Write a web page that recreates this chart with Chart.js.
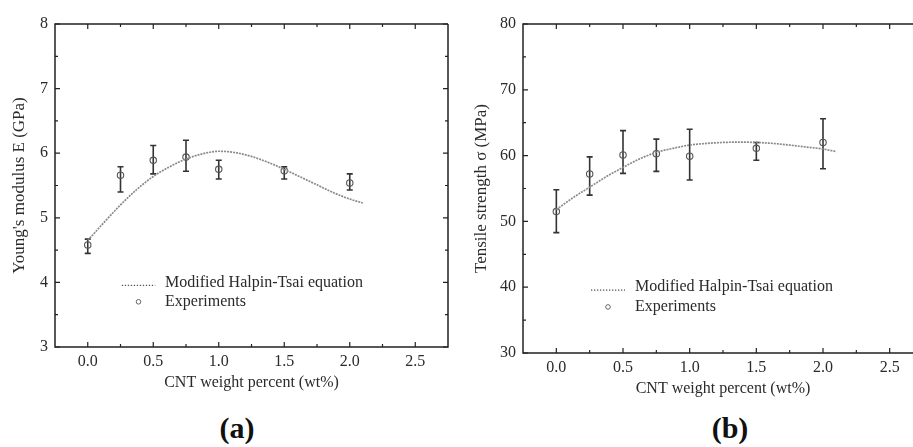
<!DOCTYPE html>
<html>
<head>
<meta charset="utf-8">
<script src="https://cdn.jsdelivr.net/npm/chart.js@4/dist/chart.umd.min.js"></script>
<style>
    html, body { margin: 0; padding: 0; background: #fff; overflow: hidden; width: 913px; height: 447px; }
    .panel { position: absolute; top: 0; height: 400px; }
    #panel-a { left: 0; width: 460px; }
    #panel-b { left: 453px; width: 480px; }
    .tag { position: absolute; top: 411px; line-height: 36px; font: bold 30px "Liberation Serif", "Times New Roman", serif; color: #111; transform: translateX(-50%); }
</style>
</head>
<body>
<div class="panel" id="panel-a"><canvas id="chart-a"></canvas></div>
<div class="panel" id="panel-b"><canvas id="chart-b"></canvas></div>
<div class="tag" style="left:237px">(a)</div>
<div class="tag" style="left:730px">(b)</div>
<script>
(function () {
    "use strict";

    // Measured points (wt% CNT)
    const cntWt = [0, 0.25, 0.5, 0.75, 1.0, 1.5, 2.0];
    const modulusMean = [4.58, 5.66, 5.89, 5.94, 5.75, 5.73, 5.54];
    const modulusLow = [4.45, 5.40, 5.68, 5.72, 5.60, 5.60, 5.43];
    const modulusHigh = [4.67, 5.79, 6.12, 6.20, 5.89, 5.79, 5.68];
    const strengthMean = [51.5, 57.2, 60.1, 60.3, 59.9, 61.1, 62.0];
    const strengthLow = [48.3, 54.0, 57.3, 57.6, 56.3, 59.3, 58.0];
    const strengthHigh = [54.8, 59.8, 63.8, 62.5, 64.0, 62.0, 65.6];

    // Modified Halpin-Tsai curves
    const fitWt = [0, 0.125, 0.25, 0.375, 0.5, 0.625, 0.75, 0.875, 1.0, 1.125, 1.25, 1.375, 1.5, 1.625, 1.75, 1.875, 2.0, 2.1];
    const modulusFit = [4.65, 4.93, 5.20, 5.44, 5.64, 5.79, 5.91, 5.99, 6.03, 6.01, 5.95, 5.86, 5.75, 5.63, 5.51, 5.39, 5.29, 5.23];
    const strengthFit = [51.8, 53.6, 55.2, 56.8, 58.2, 59.5, 60.5, 61.1, 61.6, 61.85, 62.0, 62.05, 62.0, 61.85, 61.6, 61.3, 61.0, 60.6];

    // Tick labels
    const xTicks = [0, 0.5, 1.0, 1.5, 2.0, 2.5];
    const modulusTicks = [3, 4, 5, 6, 7, 8];
    const strengthTicks = [30, 40, 50, 60, 70, 80];

    const FONT = '"Liberation Serif", "Times New Roman", serif';
    const INK = "#2a2a2a";

    const points = (xs, ys) => xs.map((x, i) => ({ x: x, y: ys[i] }));

    // Error bars, frame with inward ticks, legend inside the plot
    const decor = {
        id: "decor",
        beforeDatasetsDraw(chart, args, opts) {
            const { ctx, scales: { x, y } } = chart;
            ctx.save();
            ctx.strokeStyle = "#333";
            ctx.lineWidth = 1.6;
            opts.low.forEach((lo, i) => {
                const px = x.getPixelForValue(cntWt[i]);
                const top = y.getPixelForValue(opts.high[i]);
                const bot = y.getPixelForValue(lo);
                ctx.beginPath();
                ctx.moveTo(px, top);
                ctx.lineTo(px, bot);
                ctx.moveTo(px - 3, top);
                ctx.lineTo(px + 3, top);
                ctx.moveTo(px - 3, bot);
                ctx.lineTo(px + 3, bot);
                ctx.stroke();
            });
            ctx.restore();
        },
        afterDraw(chart, args, opts) {
            const { ctx, chartArea: a, scales: { x, y } } = chart;
            ctx.save();
            ctx.strokeStyle = "#222";
            ctx.lineWidth = 1.5;
            ctx.beginPath();
            ctx.moveTo(a.right, a.top);
            ctx.lineTo(a.left, a.top);
            ctx.lineTo(a.left, a.bottom);
            ctx.lineTo(a.right, a.bottom);
            if (opts.rightFrame) ctx.lineTo(a.right, a.top);
            ctx.stroke();

            ctx.lineWidth = 1.2;
            ctx.beginPath();
            xTicks.forEach((v, i) => {
                const px = x.getPixelForValue(v);
                ctx.moveTo(px, a.bottom); ctx.lineTo(px, a.bottom - 5);
                ctx.moveTo(px, a.top); ctx.lineTo(px, a.top + 5);
                if (i < xTicks.length - 1) {
                    const mx = x.getPixelForValue((v + xTicks[i + 1]) / 2);
                    ctx.moveTo(mx, a.bottom); ctx.lineTo(mx, a.bottom - 3);
                    ctx.moveTo(mx, a.top); ctx.lineTo(mx, a.top + 3);
                }
            });
            opts.yTicks.forEach((v, i) => {
                const py = y.getPixelForValue(v);
                ctx.moveTo(a.left, py); ctx.lineTo(a.left + 5, py);
                if (opts.rightFrame) { ctx.moveTo(a.right, py); ctx.lineTo(a.right - 5, py); }
                if (i < opts.yTicks.length - 1) {
                    const my = y.getPixelForValue((v + opts.yTicks[i + 1]) / 2);
                    ctx.moveTo(a.left, my); ctx.lineTo(a.left + 3, my);
                    if (opts.rightFrame) { ctx.moveTo(a.right, my); ctx.lineTo(a.right - 3, my); }
                }
            });
            ctx.stroke();

            // legend
            const w = a.right - a.left;
            const h = a.bottom - a.top;
            const x0 = a.left + 0.17 * w;
            const x1 = a.left + 0.255 * w;
            const tx = a.left + 0.28 * w;
            const y0 = a.top + 0.80 * h;
            const y1 = a.top + 0.86 * h;
            ctx.strokeStyle = "#555";
            ctx.lineWidth = 1.3;
            ctx.setLineDash([1.3, 1.7]);
            ctx.beginPath();
            ctx.moveTo(x0, y0 + 3);
            ctx.lineTo(x1, y0 + 3);
            ctx.stroke();
            ctx.setLineDash([]);
            ctx.lineWidth = 1;
            ctx.strokeStyle = "#666";
            ctx.beginPath();
            ctx.arc((x0 + x1) / 2, y1, 2.3, 0, Math.PI * 2);
            ctx.stroke();
            ctx.fillStyle = INK;
            ctx.font = "16px " + FONT;
            ctx.textBaseline = "middle";
            ctx.fillText(chart.data.datasets[0].label, tx, y0);
            ctx.fillText(chart.data.datasets[1].label, tx, y1);
            ctx.restore();
        },
    };

    function makeChart(id, cfg) {
        return new Chart(document.getElementById(id), {
            type: "scatter",
            data: {
                datasets: [
                    {
                        label: "Modified Halpin-Tsai equation",
                        data: points(fitWt, cfg.fit),
                        showLine: true,
                        borderColor: "#8a8a8a",
                        borderWidth: 1.7,
                        borderDash: [2, 1],
                        pointRadius: 0,
                        cubicInterpolationMode: "monotone",
                    },
                    {
                        label: "Experiments",
                        data: points(cntWt, cfg.mean),
                        showLine: false,
                        pointRadius: 3.2,
                        pointBorderWidth: 1.1,
                        borderColor: "#555",
                        backgroundColor: "transparent",
                    },
                ],
            },
            options: {
                responsive: true,
                maintainAspectRatio: false,
                animation: false,
                layout: { padding: { top: 24, right: cfg.padRight, left: 0, bottom: 0 } },
                plugins: {
                    legend: { display: false },
                    tooltip: { enabled: false },
                    decor: { low: cfg.low, high: cfg.high, yTicks: cfg.yTicks, rightFrame: cfg.rightFrame },
                },
                scales: {
                    x: {
                        type: "linear",
                        min: -0.25,
                        max: 2.75,
                        afterBuildTicks: (s) => { s.ticks = xTicks.map((v) => ({ value: v })); },
                        afterFit: (s) => { s.height = cfg.xHeight; },
                        ticks: {
                            callback: (v) => Number(v).toFixed(1),
                            font: { family: FONT, size: 16 },
                            color: INK,
                            padding: 5,
                            maxRotation: 0,
                            autoSkip: false,
                        },
                        grid: { display: false, drawTicks: false },
                        border: { display: false },
                        title: {
                            display: true,
                            text: "CNT weight percent (wt%)",
                            font: { family: FONT, size: 16 },
                            color: INK,
                            padding: { top: 0, bottom: cfg.xTitlePad },
                        },
                    },
                    y: {
                        type: "linear",
                        min: cfg.yTicks[0],
                        max: cfg.yTicks[cfg.yTicks.length - 1],
                        afterBuildTicks: (s) => { s.ticks = cfg.yTicks.map((v) => ({ value: v })); },
                        afterFit: (s) => { s.width = cfg.yWidth; },
                        ticks: {
                            font: { family: FONT, size: 16 },
                            color: INK,
                            padding: 7,
                        },
                        grid: { display: false, drawTicks: false },
                        border: { display: false },
                        title: {
                            display: true,
                            text: cfg.yTitle,
                            font: { family: FONT, size: 17 },
                            color: INK,
                            padding: { top: cfg.yTitlePad, bottom: 0 },
                        },
                    },
                },
            },
            plugins: [decor],
        });
    }

    makeChart("chart-a", {
        fit: modulusFit,
        mean: modulusMean,
        low: modulusLow,
        high: modulusHigh,
        yTicks: modulusTicks,
        yTitle: "Young's modulus E (GPa)",
        yWidth: 55,
        xHeight: 53,
        padRight: 12,
        xTitlePad: 8,
        yTitlePad: 9,
        rightFrame: true,
    });

    // right edge of this panel is cut off in the figure
    makeChart("chart-b", {
        fit: strengthFit,
        mean: strengthMean,
        low: strengthLow,
        high: strengthHigh,
        yTicks: strengthTicks,
        yTitle: "Tensile strength σ (MPa)",
        yWidth: 70,
        xHeight: 47,
        padRight: 10,
        xTitlePad: 2,
        yTitlePad: 18,
        rightFrame: false,
    });
})();
</script>
</body>
</html>
